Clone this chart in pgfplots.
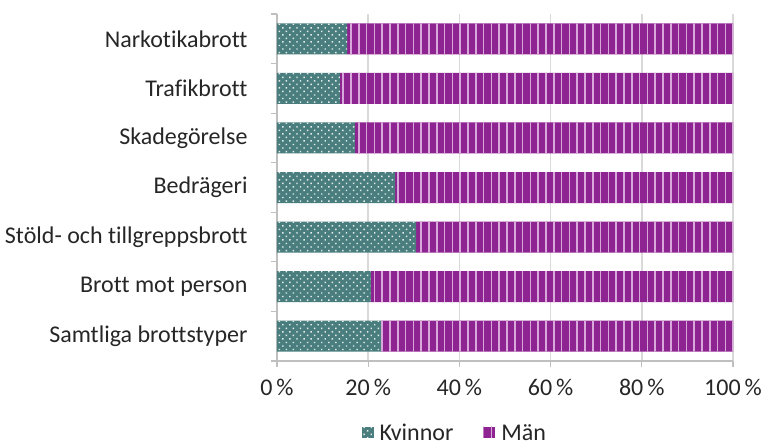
\documentclass[border=0pt]{standalone}
\usepackage{pgfplots}
\pgfplotsset{compat=1.18}
\usepackage{fontspec}
\setmainfont{Carlito}[Ligatures=NoCommon]
\usetikzlibrary{patterns.meta}
\definecolor{kv}{HTML}{4A7E7E}
\definecolor{man}{HTML}{8E2491}
\definecolor{stripe}{HTML}{D8A8DA}
\definecolor{gridc}{HTML}{D9D9D9}
\definecolor{axc}{HTML}{BFBFBF}
\definecolor{txt}{HTML}{262626}
\begin{document}
\begin{tikzpicture}
\begin{axis}[
  scale only axis,
  width=456bp, height=347bp,
  xbar stacked,
  bar width=31bp,
  xmin=0, xmax=100,
  ymin=-0.5, ymax=6.5,
  axis x line=bottom, axis y line=left,
  axis line style={axc, line width=1.2bp, -},
  xtick={0,20,...,100},
  xticklabel={\pgfmathprintnumber{\tick}\,\%},
  /pgf/number format/assume math mode=true,
  xmajorgrids, major grid style={gridc, line width=1.5bp},
  ytick={-0.5,0.5,...,6.5},
  yticklabels={{},Samtliga brottstyper, Brott mot person, Stöld- och tillgreppsbrott, Bedrägeri, Skadegörelse, Trafikbrott, Narkotikabrott},
  tick align=outside,
  major tick length=6bp,
  tick style={axc, line width=1.2bp},
  tick label style={font=\fontsize{24bp}{26bp}\selectfont, text=txt},
  yticklabel style={xshift=-20bp, yshift=-24.8bp},
  xticklabel style={yshift=-9bp},
  legend style={draw=none, fill=none, at={(0.39,-0.205)}, anchor=center, legend columns=2, font=\fontsize{24bp}{26bp}\selectfont, text=txt, nodes={text depth=0pt, inner ysep=1bp}, /tikz/every even column/.append style={column sep=28bp}},
  legend image code/.code={\draw[#1, draw=none] (0bp,-5.5bp) rectangle (12bp,5.5bp);},
]
\addplot[fill=kv, draw=none, postaction={pattern={Dots[distance=5bp, radius=1bp, angle=45]}, pattern color=white!85!kv}] coordinates {(22.8,0) (20.6,1) (30.5,2) (25.9,3) (17.1,4) (13.8,5) (15.4,6)};
\addlegendentry{\,Kvinnor}
\addplot[fill=man, draw=none, postaction={pattern={Lines[angle=90, distance=7.8bp, line width=1.7bp]}, pattern color=stripe}] coordinates {(77.2,0) (79.4,1) (69.5,2) (74.1,3) (82.9,4) (86.2,5) (84.6,6)};
\addlegendentry{\,Män}
\end{axis}
\pgfresetboundingbox
\path (current axis.south west) ++(-277bp,-84bp) rectangle ++(764bp,445bp);
\end{tikzpicture}
\end{document}
